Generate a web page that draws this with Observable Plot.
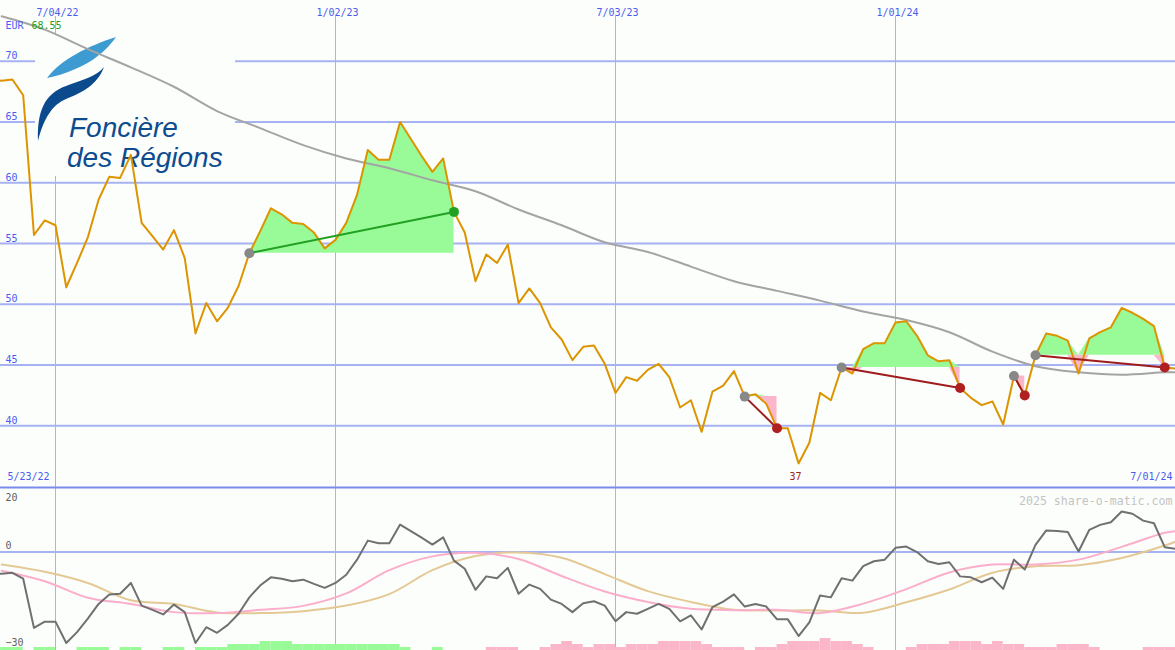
<!DOCTYPE html>
<html><head><meta charset="utf-8">
<script src="https://cdn.jsdelivr.net/npm/d3@7"></script>
<script src="https://cdn.jsdelivr.net/npm/@observablehq/plot@0.6"></script>
<style>
body{margin:0;background:#fcfefc;}
#chart{position:relative;width:1175px;height:650px;overflow:hidden;background:#fcfefc;}
#chart svg{display:block;}
#bottomWrap{position:relative;width:1175px;height:164px;}
#bars{position:absolute;left:0;bottom:0;}
</style></head><body><div id="chart"><div id="topWrap"></div><div id="bottomWrap"></div></div>
<script>
// ---- DATA ----
const firstWeek = "2022-05-23";
const lastWeek = "2024-07-01";
const priceEUR = [68.55,
 68.4, 68.5, 67.2, 55.7, 56.9, 56.5, 51.4, 53.4, 55.5, 58.6,
 60.5, 60.4, 62.3, 56.7, 55.6, 54.5, 56.1, 53.8, 47.6, 50.1,
 48.6, 49.7, 51.5, 54.2, 56.0, 57.9, 57.4, 56.7, 56.6, 55.9,
 54.6, 55.3, 56.7, 59.0, 62.7, 61.9, 61.9, 65.0, 63.6, 62.2,
 60.9, 62.0, 57.6, 55.9, 51.9, 54.1, 53.4, 54.9, 50.1, 51.3,
 50.1, 48.1, 47.1, 45.4, 46.5, 46.6, 45.1, 42.7, 44.0, 43.7,
 44.6, 45.1, 44.0, 41.5, 42.1, 39.5, 42.8, 43.3, 44.5, 42.4,
 42.6, 41.8, 39.8, 39.8, 36.9, 38.6, 42.7, 42.1, 44.8, 44.3,
 46.3, 46.8, 46.8, 48.5, 48.6, 47.4, 45.8, 45.3, 45.4, 43.1,
 42.3, 41.7, 42.0, 40.1, 44.1, 42.5, 45.8, 47.6, 47.4, 47.0,
 44.3, 47.2, 47.7, 48.1, 49.7, 49.3, 48.8, 48.2, 44.8, 44.7];
const oscMain = [-6.5,
 -6.6, -6.3, -8.1, -23.1, -21.2, -21.2, -27.7, -24.4, -20.3, -15.8,
 -12.9, -12.7, -9.4, -16.3, -17.6, -19.0, -16.0, -18.3, -27.7, -22.9,
 -24.6, -22.2, -18.8, -13.8, -10.2, -7.7, -8.1, -8.9, -8.4, -9.7,
 -10.9, -9.4, -6.9, -2.3, 3.5, 2.7, 2.7, 8.4, 6.4, 4.4,
 2.3, 4.5, -2.6, -5.1, -11.5, -7.4, -8.0, -4.8, -12.7, -9.9,
 -11.2, -14.5, -15.8, -18.3, -15.6, -15.0, -16.3, -21.1, -18.3, -18.8,
 -17.3, -15.8, -17.3, -21.1, -19.3, -23.6, -16.8, -15.1, -12.9, -16.6,
 -15.8, -16.6, -20.5, -20.5, -25.6, -21.4, -13.2, -13.8, -8.0, -8.7,
 -4.3, -2.8, -2.3, 1.3, 1.7, 0.0, -2.8, -3.6, -3.1, -7.4,
 -7.7, -9.2, -7.8, -11.2, -2.3, -5.3, 2.2, 6.6, 6.4, 6.1,
 0.2, 6.8, 8.3, 9.1, 12.4, 11.7, 9.6, 8.8, 1.5, 1.0];
// smooth series read every 4th week (index into the weekly list)
const sampleIdx = [1,5,9,13,17,21,25,29,33,37,41,45,49,53,57,61,65,69,73,77,81,85,89,93,97,101,105,109,110];
const movingAvg = [73.7,72.6,71.0,69.5,67.9,65.9,64.5,63.1,62.0,61.2,60.2,59.3,57.8,56.5,55.1,54.3,53.1,51.9,51.1,50.3,49.4,48.7,47.7,46.1,44.9,44.4,44.2,44.4,44.4];
const signalPink = [-5.7,-8.9,-13.9,-15.8,-18.3,-18.6,-17.6,-16.4,-12.6,-5.5,-1.3,-0.2,-2.1,-7.3,-12.0,-15.2,-17.3,-17.7,-17.6,-18.6,-15.7,-11.3,-6.2,-3.8,-3.8,-2.3,1.6,5.9,6.4];
const signalTan = [-3.8,-6.0,-9.4,-14.7,-15.8,-18.4,-18.6,-18.0,-16.3,-12.8,-5.5,-1.2,-0.1,-1.7,-6.7,-11.9,-15.2,-17.6,-17.8,-17.8,-18.5,-15.3,-11.4,-6.3,-4.3,-4.0,-1.8,2.0,3.2];
// weekly histogram levels (+ green, - pink), one per week from the first week
const barLevels = [1,1,1,0,1,1,0,0,1,1,1,0,1,1,0,0,1,1,0,1,1,1,2,2,2,3,3,3,2,2,2,2,2,2,2,2,2,2,1,0,0,1,0,0,0,0,
 -1,-1,-1,0,0,-1,-2,-3,-2,-1,-2,-2,-1,-2,-2,-2,-3,-3,-3,-3,-2,-1,-1,-1,0,-1,-1,-2,-3,-3,-3,-4,-3,-3,-2,-1,0,0,0,
 -1,-2,-2,-2,-3,-3,-3,-2,-3,-2,-2,-1,-1,-1,-2,-2,-2,-1,0,0,0,0,-1,-1,-1];
const tradeEntry = ["2022-11-07","2023-09-25","2023-11-27","2024-03-18","2024-04-01"];
const tradeExit  = ["2023-03-20","2023-10-16","2024-02-12","2024-03-25","2024-06-24"];
const tickDates = ["2022-07-04","2023-01-02","2023-07-03","2024-01-01"];
const priceTicks = [40,45,50,55,60,65,70];
const oscTop = 20, oscZero = 0, oscBottom = -30;
const currency = "EUR";
const copyright = "2025 share-o-matic.com";

// ---- BUILD ----
const weeks = d3.utcMonday.range(new Date(firstWeek), d3.utcDay.offset(new Date(lastWeek), 1));
const widx = s => weeks.findIndex(w => +w === +new Date(s));
const priceData = weeks.map((d, i) => ({date: d, price: priceEUR[i], osc: oscMain[i]}));
const smooth = sampleIdx.map((k, i) => ({date: weeks[k], ma: movingAvg[i], pink: signalPink[i], tan: signalTan[i]}));
const trades = tradeEntry.map((e, t) => {
  const a = widx(e), b = widx(tradeExit[t]);
  return {t, a, b, d1: weeks[a], d2: weeks[b], p1: priceEUR[a], p2: priceEUR[b], win: priceEUR[b] > priceEUR[a]};
});
const areaData = trades.flatMap(tr => d3.range(tr.a, tr.b + 1).map(i => ({t: tr.t, date: weeks[i], price: priceEUR[i], base: tr.p1})));
const barData = barLevels.map((v, i) => ({x1: weeks[i], x2: weeks[i + 1], v}));
const tickData = tickDates.map(s => new Date(s));
const fmt = d3.utcFormat("%-m/%d/%y");
const minI = d3.minIndex(priceEUR);

const W = 1175;
const xScale = {type: "utc", domain: [new Date(Date.UTC(2022,4,29,6)), new Date(lastWeek)], range: [0, W], axis: null};
const GRID = "#a6b2f2", BLUE = "#4a5cf0", MONO = "DejaVu Sans Mono, monospace";

const logoMark = () => {
  const g = d3.create("svg:g");
  g.append("rect").attr("x", 35).attr("y", 35).attr("width", 200).attr("height", 141).attr("fill", "#fcfefc");
  g.append("path").attr("d", "M47,78 C60,60 88,46 116,37 C104,54 84,70 47,78 Z").attr("fill", "#3d9bd1");
  g.append("path").attr("d", "M38,141 C37,112 44,94 66,86 C82,80 97,76 104,67 C98,84 82,93 66,99 C52,105 44,118 38,141 Z").attr("fill", "#0b4a8c");
  const t = g.append("text").attr("fill", "#0e4c90").attr("font-family", "Liberation Sans, Arial, sans-serif")
    .attr("font-style", "italic").attr("font-size", 28).attr("text-anchor", "start");
  t.append("tspan").attr("x", 69).attr("y", 137).text("Foncière");
  t.append("tspan").attr("x", 67).attr("y", 167).text("des Régions");
  return g.node();
};

const txt = {fontSize: 10, fontFamily: MONO};

const topPlot = Plot.plot({
  width: W, height: 486, margin: 0,
  x: xScale, y: {domain: [35, 75], range: [486, 0], axis: null},
  style: {background: "transparent", overflow: "visible"},
  marks: [
    Plot.ruleY(priceTicks, {stroke: GRID, strokeWidth: 2}),
    Plot.ruleX(tickData, {stroke: GRID, strokeWidth: 1, insetTop: 16}),
    logoMark,
    Plot.areaY(areaData, {x: "date", y1: "base", y2: d => Math.max(d.price, d.base), z: "t", fill: "#98fb98"}),
    Plot.areaY(areaData, {x: "date", y1: "base", y2: d => Math.min(d.price, d.base), z: "t", fill: "#fbb6c9"}),
    Plot.line(smooth, {x: "date", y: "ma", stroke: "#a4a4a4", strokeWidth: 2, curve: "catmull-rom", clip: true}),
    Plot.line(priceData, {x: "date", y: "price", stroke: "#dc9400", strokeWidth: 2, clip: true}),
    Plot.link(trades, {x1: "d1", y1: "p1", x2: "d2", y2: "p2", stroke: d => d.win ? "#22a022" : "#a01c1c", strokeWidth: 2}),
    Plot.dot(trades, {x: "d1", y: "p1", r: 5, fill: "#888888"}),
    Plot.dot(trades, {x: "d2", y: "p2", r: 5, fill: d => d.win ? "#22a022" : "#b02020"}),
    Plot.text(tickData, {x: d => d, text: d => fmt(d), frameAnchor: "top", dy: 8, dx: 2, fill: BLUE, ...txt}),
    Plot.text(priceTicks, {y: d => d, text: d => String(d), frameAnchor: "left", textAnchor: "start", lineAnchor: "bottom", dx: 5, dy: -2, fill: BLUE, ...txt}),
    Plot.text([currency], {text: d => d, frameAnchor: "top-left", dx: 5, dy: 21, fill: BLUE, ...txt}),
    Plot.text([priceEUR[0]], {text: d => d.toFixed(2), frameAnchor: "top-left", dx: 31, dy: 21, fill: "#22a022", ...txt}),
    Plot.text([minI], {x: i => weeks[i], text: i => Math.round(priceEUR[i]), frameAnchor: "bottom", dy: -7, dx: -3, fill: "#a02020", ...txt}),
    Plot.text([weeks[0]], {text: d => fmt(d), frameAnchor: "bottom-left", dx: 7, dy: -7, fill: BLUE, ...txt}),
    Plot.text([weeks[weeks.length - 1]], {text: d => fmt(d), frameAnchor: "bottom-right", dx: -3, dy: -7, fill: BLUE, ...txt})
  ]
});
document.getElementById("topWrap").appendChild(topPlot);

const bottomPlot = Plot.plot({
  width: W, height: 164, margin: 0,
  x: xScale, y: {domain: [oscBottom, oscTop], range: [164, 0], axis: null},
  style: {background: "transparent", overflow: "visible", position: "relative"},
  marks: [
    Plot.ruleX(tickData, {stroke: GRID, strokeWidth: 1}),
    Plot.ruleY([oscZero], {stroke: GRID, strokeWidth: 2}),
    Plot.ruleY([oscTop], {stroke: "#7b8bec", strokeWidth: 2, dy: 1}),
    Plot.line(smooth, {x: "date", y: "tan", stroke: "#e4c995", strokeWidth: 2, curve: "catmull-rom", clip: true}),
    Plot.line(smooth, {x: "date", y: "pink", stroke: "#fbaecb", strokeWidth: 2, curve: "catmull-rom", clip: true}),
    Plot.line(priceData, {x: "date", y: "osc", stroke: "#707070", strokeWidth: 2, clip: true}),
    Plot.text([oscTop], {y: d => d, text: d => String(d), frameAnchor: "left", textAnchor: "start", dx: 5, dy: 11, fill: "#606060", ...txt}),
    Plot.text([oscZero], {y: d => d, text: d => String(d), frameAnchor: "left", textAnchor: "start", dx: 5, dy: -6, fill: "#606060", ...txt}),
    Plot.text([oscBottom], {y: d => d, text: d => "\u2212" + Math.abs(d), frameAnchor: "left", textAnchor: "start", dx: 5, dy: -8, fill: "#606060", ...txt}),
    Plot.text([copyright], {text: d => d, frameAnchor: "top-right", dx: -3, dy: 10, fill: "#c4c4c4", fontSize: 11.6, fontFamily: MONO})
  ]
});
const barsPlot = Plot.plot({
  width: W, height: 12, margin: 0,
  x: xScale, y: {domain: [0, 4], range: [12, 0], axis: null},
  style: {background: "transparent"},
  marks: [
    Plot.rect(barData.filter(d => d.v !== 0), {x1: "x1", x2: "x2", y1: 0, y2: d => Math.abs(d.v), fill: d => d.v > 0 ? "#98fb98" : "#fbb6c9", clip: true})
  ]
});
barsPlot.id = "bars";
const bw = document.getElementById("bottomWrap");
bw.appendChild(bottomPlot);
bw.appendChild(barsPlot);
</script></body></html>
